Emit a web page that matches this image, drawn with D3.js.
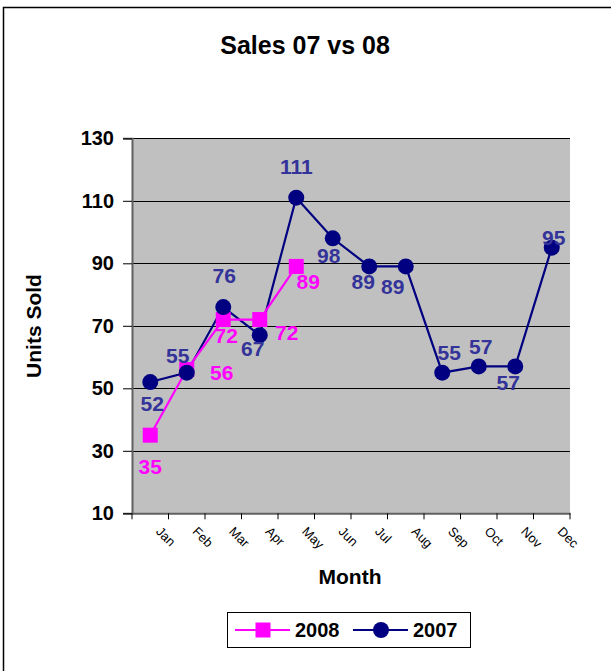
<!DOCTYPE html>
<html>
<head>
<meta charset="utf-8">
<script src="https://cdn.jsdelivr.net/npm/d3@7"></script>
<style>
body { margin: 0; background: #fff; }
svg { display: block; font-family: "Liberation Sans", Arial, sans-serif; }
</style>
</head>
<body>
<svg id="svg" width="611" height="671"></svg>
<script>
var months = ["Jan","Feb","Mar","Apr","May","Jun","Jul","Aug","Sep","Oct","Nov","Dec"];
var sales2008 = [35, 56, 72, 72, 89];
var sales2007 = [52, 55, 76, 67, 111, 98, 89, 89, 55, 57, 57, 95];
var yTicks = [10, 30, 50, 70, 90, 110, 130];

// label nudges (px) so the numbers sit where excel put them
var nudge2007 = [[2,21],[-9,-17],[1,-32],[-7,13],[0,-31],[-4,17],[-6,15],[-13,20],[7,-20],[2,-20],[-7,16],[2,-10]];
var nudge2008 = [[0,31],[35,3],[3,16],[27,13],[12,15]];

var svg = d3.select("#svg");

// outer chart border
svg.append("rect")
    .attr("x", 3.5).attr("y", 7.5)
    .attr("width", 620).attr("height", 680)
    .attr("fill", "none").attr("stroke", "#000").attr("stroke-width", 1.5);

var pLeft = 132, pRight = 570, pTop = 138.3, pBottom = 513.3;

var x = d3.scaleBand().domain(months).range([pLeft, pRight]);
var y = d3.scaleLinear().domain([10, 130]).range([pBottom, pTop]);
var cx = function(i) { return x(months[i]) + x.bandwidth() / 2; };

// plot area
svg.append("rect")
    .attr("x", pLeft).attr("y", pTop)
    .attr("width", pRight - pLeft).attr("height", pBottom - pTop)
    .attr("fill", "#c0c0c0");

// gridlines
svg.append("g").selectAll("line")
    .data(yTicks.slice(1))
    .enter().append("line")
    .attr("x1", pLeft).attr("x2", pRight)
    .attr("y1", function(d) { return Math.round(y(d)) + 0.5; })
    .attr("y2", function(d) { return Math.round(y(d)) + 0.5; })
    .attr("stroke", "#000").attr("stroke-width", 1);

// y axis
var yAxis = svg.append("g")
    .attr("transform", "translate(" + pLeft + ",0)")
    .call(d3.axisLeft(y).tickValues(yTicks).tickSize(9).tickPadding(9));
yAxis.select(".domain").attr("stroke", "#606060").attr("stroke-width", 2);
yAxis.selectAll(".tick line").attr("stroke", "#000");
yAxis.selectAll("text")
    .attr("font-size", "20px").attr("font-weight", "bold")
    .attr("font-family", "Liberation Sans, Arial, sans-serif")
    .attr("fill", "#000");

// x axis
var xAxis = svg.append("g")
    .attr("transform", "translate(0," + pBottom + ")")
    .call(d3.axisBottom(x).tickSize(0).tickFormat(""));
xAxis.select(".domain").attr("stroke", "#606060").attr("stroke-width", 2);
xAxis.append("g").selectAll("line")
    .data(d3.range(months.length + 1))
    .enter().append("line")
    .attr("x1", function(i) { return pLeft + i * x.step(); })
    .attr("x2", function(i) { return pLeft + i * x.step(); })
    .attr("y1", 0).attr("y2", 6)
    .attr("stroke", "#000");

svg.append("g").selectAll("text")
    .data(months)
    .enter().append("text")
    .attr("transform", function(d, i) { return "translate(" + (cx(i) + 5) + "," + (pBottom + 19) + ") rotate(45)"; })
    .attr("font-size", "13px")
    .attr("fill", "#000")
    .text(function(d) { return d; });

// titles
svg.append("text")
    .attr("x", 305).attr("y", 54)
    .attr("text-anchor", "middle")
    .attr("font-size", "25px").attr("font-weight", "bold")
    .text("Sales 07 vs 08");

svg.append("text")
    .attr("x", 350).attr("y", 584)
    .attr("text-anchor", "middle")
    .attr("font-size", "21px").attr("font-weight", "bold")
    .text("Month");

svg.append("text")
    .attr("transform", "translate(41,326) rotate(-90)")
    .attr("text-anchor", "middle")
    .attr("font-size", "21px").attr("font-weight", "bold")
    .text("Units Sold");

// lines
var line = d3.line()
    .x(function(d, i) { return cx(i); })
    .y(function(d) { return y(d); });

svg.append("path")
    .datum(sales2007)
    .attr("d", line)
    .attr("fill", "none").attr("stroke", "#000080").attr("stroke-width", 2.2);

svg.append("path")
    .datum(sales2008)
    .attr("d", line)
    .attr("fill", "none").attr("stroke", "#ff00ff").attr("stroke-width", 2.2);

svg.append("g").selectAll("rect")
    .data(sales2008)
    .enter().append("rect")
    .attr("x", function(d, i) { return cx(i) - 7.5; })
    .attr("y", function(d) { return y(d) - 7.5; })
    .attr("width", 15).attr("height", 15)
    .attr("fill", "#ff00ff");

svg.append("g").selectAll("circle")
    .data(sales2007)
    .enter().append("circle")
    .attr("cx", function(d, i) { return cx(i); })
    .attr("cy", function(d) { return y(d); })
    .attr("r", 8)
    .attr("fill", "#000080");

// data labels
svg.append("g").selectAll("text")
    .data(sales2007)
    .enter().append("text")
    .attr("x", function(d, i) { return cx(i) + nudge2007[i][0]; })
    .attr("y", function(d, i) { return y(d) + nudge2007[i][1] + 7.5; })
    .attr("text-anchor", "middle")
    .attr("font-size", "21px").attr("font-weight", "bold")
    .attr("fill", "#333399")
    .text(function(d) { return d; });

svg.append("g").selectAll("text")
    .data(sales2008)
    .enter().append("text")
    .attr("x", function(d, i) { return cx(i) + nudge2008[i][0]; })
    .attr("y", function(d, i) { return y(d) + nudge2008[i][1] + 7.5; })
    .attr("text-anchor", "middle")
    .attr("font-size", "21px").attr("font-weight", "bold")
    .attr("fill", "#ff00ff")
    .text(function(d) { return d; });

// legend
var lg = svg.append("g");
lg.append("rect")
    .attr("x", 227.5).attr("y", 612.5)
    .attr("width", 243).attr("height", 35)
    .attr("fill", "#fff").attr("stroke", "#000").attr("stroke-width", 1);

var legendItems = [
    {name: "2008", color: "#ff00ff", shape: "square", x0: 235},
    {name: "2007", color: "#000080", shape: "circle", x0: 353}
];
legendItems.forEach(function(it) {
    lg.append("line")
        .attr("x1", it.x0).attr("x2", it.x0 + 55)
        .attr("y1", 630).attr("y2", 630)
        .attr("stroke", it.color).attr("stroke-width", 2.2);
    if (it.shape == "square") {
        lg.append("rect")
            .attr("x", it.x0 + 20.5).attr("y", 622.5)
            .attr("width", 15).attr("height", 15)
            .attr("fill", it.color);
    } else {
        lg.append("circle")
            .attr("cx", it.x0 + 28).attr("cy", 630).attr("r", 8)
            .attr("fill", it.color);
    }
    lg.append("text")
        .attr("x", it.x0 + 60).attr("y", 637)
        .attr("font-size", "20px").attr("font-weight", "bold")
        .text(it.name);
});
</script>
</body>
</html>
